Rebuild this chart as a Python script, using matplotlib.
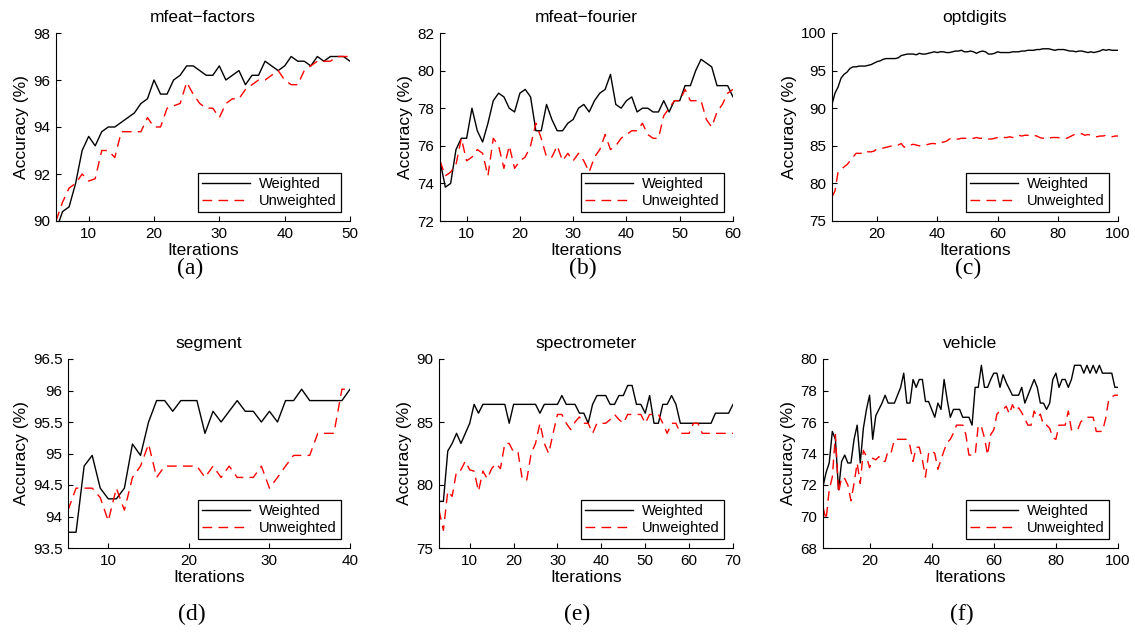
import matplotlib
matplotlib.use('Agg')
import matplotlib.pyplot as plt
from matplotlib.ticker import FormatStrFormatter

plt.rcParams['font.family'] = ['Liberation Sans', 'DejaVu Sans']

# (a) mfeat-factors
x_a = list(range(5, 51))
a_w = [89.6, 90.4, 90.6, 91.6, 93.0, 93.6, 93.2, 93.8, 94.0, 94.0, 94.2, 94.4, 94.6, 95.0, 95.2, 96.0,
       95.4, 95.4, 96.0, 96.2, 96.6, 96.6, 96.4, 96.2, 96.2, 96.6, 96.0, 96.2, 96.4, 95.8, 96.2, 96.2,
       96.8, 96.6, 96.4, 96.6, 97.0, 96.8, 96.8, 96.6, 97.0, 96.8, 97.0, 97.0, 97.0, 96.8]
a_u = [90.0, 90.8, 91.4, 91.6, 92.0, 91.7, 91.8, 93.0, 93.0, 92.7, 93.8, 93.8, 93.8, 93.8, 94.4, 94.0,
       94.0, 94.8, 94.9, 95.0, 95.9, 95.4, 95.0, 94.8, 94.8, 94.4, 95.0, 95.2, 95.2, 95.6, 95.8, 96.0,
       96.0, 96.2, 96.4, 96.0, 95.8, 95.8, 96.4, 96.6, 96.8, 96.8, 96.8, 97.0, 97.0, 97.0]

# (b) mfeat-fourier
x_b = list(range(5, 61))
b_w = [75.2, 73.8, 74.0, 75.8, 76.4, 76.4, 78.0, 76.8, 76.2, 77.2, 78.4, 78.8, 78.6, 78.0, 77.8, 78.8,
       79.0, 78.6, 76.8, 76.8, 78.2, 77.4, 76.8, 76.8, 77.2, 77.4, 78.0, 78.2, 77.8, 78.4, 78.8, 79.0,
       79.8, 78.2, 78.0, 78.4, 78.6, 77.8, 78.0, 78.0, 77.8, 77.8, 78.4, 77.8, 78.4, 78.4, 79.2, 79.2,
       80.0, 80.6, 80.4, 80.2, 79.2, 79.2, 79.2, 78.6]
b_u = [75.2, 74.4, 74.6, 75.0, 76.4, 75.2, 75.4, 75.8, 75.6, 74.4, 76.4, 76.0, 74.8, 76.0, 74.8, 75.2,
       75.4, 76.0, 77.2, 76.4, 75.4, 75.4, 76.0, 75.2, 75.6, 75.2, 75.6, 75.2, 74.6, 75.4, 75.8, 76.6,
       75.8, 76.0, 76.4, 76.6, 76.8, 76.8, 77.2, 76.6, 76.4, 76.4, 77.6, 78.0, 78.4, 78.4, 79.0, 78.4,
       78.4, 78.4, 77.4, 77.0, 77.8, 78.2, 78.8, 79.0]

# (c) optdigits
x_c = list(range(5, 101))
c_w = [90.5, 92.0, 92.8, 94.0, 94.5, 94.8, 95.3, 95.5, 95.5, 95.6, 95.6, 95.6, 95.7, 95.8, 96.0, 96.2,
       96.3, 96.5, 96.6, 96.6, 96.6, 96.6, 96.7, 97.0, 97.1, 97.2, 97.2, 97.2, 97.1, 97.3, 97.2, 97.2,
       97.3, 97.4, 97.5, 97.4, 97.5, 97.5, 97.4, 97.4, 97.5, 97.6, 97.6, 97.7, 97.5, 97.5, 97.6, 97.5,
       97.3, 97.5, 97.6, 97.5, 97.2, 97.2, 97.3, 97.5, 97.4, 97.4, 97.4, 97.4, 97.5, 97.5, 97.5, 97.6,
       97.6, 97.7, 97.7, 97.7, 97.8, 97.8, 97.9, 97.9, 97.9, 97.8, 97.7, 97.8, 97.8, 97.8, 97.7, 97.6,
       97.6, 97.5, 97.6, 97.6, 97.5, 97.4, 97.5, 97.4, 97.5, 97.6, 97.8, 97.7, 97.8, 97.7, 97.7, 97.7]
c_u = [78.2, 79.0, 81.5, 81.8, 82.2, 82.5, 83.0, 83.5, 84.0, 84.0, 84.0, 84.3, 84.2, 84.2, 84.3, 84.6,
       84.6, 84.7, 84.8, 84.9, 85.0, 85.0, 85.1, 85.3, 84.8, 85.1, 85.1, 85.2, 85.1, 85.0, 85.0, 85.1,
       85.2, 85.3, 85.3, 85.2, 85.4, 85.5, 85.6, 85.9, 86.0, 85.9, 85.9, 86.0, 86.0, 86.0, 86.0, 86.0,
       86.1, 86.0, 86.0, 85.9, 85.9, 85.9, 86.0, 86.1, 86.2, 86.1, 86.1, 86.2, 86.1, 86.2, 86.4, 86.3,
       86.4, 86.4, 86.3, 86.4, 86.3, 86.1, 86.0, 86.1, 86.0, 86.1, 86.1, 86.1, 86.0, 86.0, 86.0, 86.2,
       86.4, 86.6, 86.6, 86.6, 86.4, 86.5, 86.4, 86.3, 86.2, 86.3, 86.3, 86.4, 86.3, 86.2, 86.3, 86.3]

# (d) segment
x_d = list(range(5, 41))
d_w = [93.75, 93.75, 94.8, 94.97, 94.45, 94.28, 94.28, 94.45, 95.15, 94.97, 95.5, 95.84, 95.84, 95.67,
       95.84, 95.84, 95.84, 95.32, 95.67, 95.5, 95.67, 95.84, 95.67, 95.67, 95.5, 95.67, 95.5, 95.84,
       95.84, 96.02, 95.84, 95.84, 95.84, 95.84, 95.84, 96.02]
d_u = [94.1, 94.45, 94.45, 94.45, 94.3, 93.93, 94.45, 94.1, 94.62, 94.8, 95.15, 94.62, 94.8, 94.8,
       94.8, 94.8, 94.8, 94.62, 94.8, 94.62, 94.8, 94.62, 94.62, 94.62, 94.8, 94.45, 94.62, 94.8,
       94.97, 94.97, 94.97, 95.32, 95.32, 95.32, 96.02, 96.02]

# (e) spectrometer
x_e = list(range(3, 71))
e_w = [78.7, 78.7, 82.7, 83.3, 84.1, 83.3, 84.1, 84.9, 86.4, 85.7, 86.4, 86.4, 86.4, 86.4, 86.4, 86.4,
       84.9, 86.4, 86.4, 86.4, 86.4, 86.4, 86.4, 85.7, 86.4, 86.4, 86.4, 86.4, 87.1, 86.4, 86.4, 86.4,
       85.7, 85.7, 84.9, 86.4, 87.1, 87.1, 87.1, 86.4, 86.4, 87.1, 87.1, 87.9, 87.9, 86.4, 86.4, 85.7,
       87.1, 84.9, 84.9, 86.4, 86.4, 87.1, 86.4, 84.9, 84.9, 84.9, 84.9, 84.9, 84.9, 84.9, 84.9, 85.7,
       85.7, 85.7, 85.7, 86.4]
e_u = [78.0, 76.4, 79.5, 79.1, 81.1, 81.2, 81.9, 81.2, 81.1, 79.5, 81.1, 80.5, 81.3, 81.7, 81.3, 83.3,
       83.3, 82.6, 82.6, 80.4, 80.4, 82.5, 83.3, 84.9, 83.3, 82.5, 84.1, 85.6, 85.6, 84.9, 84.4, 85.0,
       85.4, 84.9, 84.9, 84.1, 84.9, 84.9, 84.9, 85.2, 85.6, 85.2, 84.9, 85.6, 85.6, 85.6, 85.6, 84.9,
       85.6, 85.6, 85.6, 84.9, 84.1, 84.9, 84.9, 84.1, 84.1, 84.1, 84.9, 84.9, 84.1, 84.1, 84.1, 84.1,
       84.1, 84.1, 84.1, 84.1]

# (f) vehicle
x_f = list(range(5, 101))
f_w = [71.9, 72.8, 73.4, 75.4, 74.9, 71.7, 73.5, 73.9, 73.4, 73.4, 74.9, 75.8, 73.4, 75.6, 76.8, 77.7,
       74.9, 76.4, 76.8, 77.2, 77.7, 77.2, 77.2, 77.2, 77.7, 78.2, 79.1, 77.2, 77.2, 78.7, 78.2, 78.7,
       78.7, 77.3, 77.3, 76.8, 76.3, 77.2, 76.8, 78.7, 77.4, 76.3, 76.8, 76.8, 76.8, 76.3, 76.3, 76.3,
       75.8, 78.2, 78.2, 79.6, 78.2, 78.2, 78.7, 79.1, 79.1, 78.2, 79.0, 78.5, 78.1, 77.7, 77.7, 77.7,
       78.2, 77.2, 77.7, 78.2, 78.7, 78.2, 77.2, 77.2, 76.8, 77.2, 78.7, 79.1, 78.2, 78.7, 78.7, 78.2,
       78.7, 79.6, 79.6, 79.6, 79.1, 79.6, 79.1, 79.6, 79.1, 79.6, 79.1, 79.1, 79.1, 79.1, 78.2, 78.2]
f_u = [70.6, 69.8, 71.7, 72.5, 75.2, 71.5, 72.5, 72.4, 72.0, 71.0, 72.1, 73.4, 72.1, 74.2, 73.8, 73.1,
       73.7, 73.6, 73.8, 73.5, 73.5, 74.2, 74.1, 74.9, 74.9, 74.9, 74.9, 74.9, 74.5, 73.5, 74.4, 74.4,
       73.6, 72.5, 74.0, 74.2, 74.0, 73.0, 73.6, 74.2, 74.7, 74.9, 75.3, 75.8, 75.8, 75.8, 75.2, 73.9,
       73.9, 73.9, 75.8, 75.7, 75.0, 73.9, 75.2, 75.5, 76.5, 76.7, 76.8, 77.0, 76.5, 77.1, 76.7, 76.9,
       76.6, 76.2, 75.8, 75.8, 76.7, 76.3, 76.5, 75.8, 75.8, 75.6, 75.0, 74.9, 75.8, 75.8, 75.8, 76.7,
       75.5, 75.5, 75.5, 76.0, 76.2, 76.3, 76.3, 76.3, 75.4, 75.4, 75.4, 76.2, 77.4, 77.6, 77.7, 77.7]

titles = ['mfeat\u2212factors', 'mfeat\u2212fourier', 'optdigits', 'segment', 'spectrometer', 'vehicle']
captions = ['(a)', '(b)', '(c)', '(d)', '(e)', '(f)']
xs = [x_a, x_b, x_c, x_d, x_e, x_f]
ws = [a_w, b_w, c_w, d_w, e_w, f_w]
us = [a_u, b_u, c_u, d_u, e_u, f_u]
xlims = [(5, 50), (5, 60), (5, 100), (5, 40), (3, 70), (5, 100)]
xticks = [range(10, 51, 10), range(10, 61, 10), range(20, 101, 20),
          range(10, 41, 10), range(10, 71, 10), range(20, 101, 20)]
ylims = [(90, 98), (72, 82), (75, 100), (93.5, 96.5), (75, 90), (68, 80)]
ysteps = [2, 2, 5, 0.5, 5, 2]

# axes boxes in pixels: left, right, top, bottom
W, H = 1135, 637
boxes = [(56, 350, 33, 221), (440, 733, 33, 221), (832, 1118, 33, 221),
         (68, 350, 359, 548), (439, 733, 359, 548), (823, 1118, 359, 548)]
cap_pos = [(190, 268), (583, 268), (968, 268), (192, 614), (577, 614), (962, 614)]

fig = plt.figure(figsize=(W / 100, H / 100), dpi=100)

for i in range(6):
    l, r, t, b = boxes[i]
    ax = fig.add_axes([l / W, 1 - b / H, (r - l) / W, (b - t) / H])
    ax.plot(xs[i], ws[i], color='black', lw=1.0, label='Weighted')
    ax.plot(xs[i], us[i], color='red', lw=1.0, dashes=(7, 4.5), label='Unweighted')
    ax.set_xlim(*xlims[i])
    ax.set_ylim(*ylims[i])
    ax.set_xticks(list(xticks[i]))
    y0, y1 = ylims[i]
    n = int(round((y1 - y0) / ysteps[i]))
    ax.set_yticks([y0 + k * ysteps[i] for k in range(n + 1)])
    ax.yaxis.set_major_formatter(FormatStrFormatter('%g'))
    ax.spines['top'].set_visible(False)
    ax.spines['right'].set_visible(False)
    ax.tick_params(direction='in', length=3.5, labelsize=11, pad=4)
    ax.set_title(titles[i], fontsize=12.5, pad=8)
    ax.set_xlabel('Iterations', fontsize=12.5, labelpad=1.5)
    ax.set_ylabel('Accuracy (%)', fontsize=12.5, labelpad=3)
    leg = ax.legend(loc='lower right', fontsize=10.5, fancybox=False, framealpha=1,
                    edgecolor='black', handlelength=3.3, borderaxespad=0.6,
                    borderpad=0.3, labelspacing=0.2, handletextpad=0.6)
    leg.get_frame().set_linewidth(0.9)
    fig.text(cap_pos[i][0] / W, 1 - cap_pos[i][1] / H, captions[i],
             family=['Liberation Serif', 'DejaVu Serif'], fontsize=17,
             ha='center', va='center')

plt.savefig('out.png', dpi=100)
